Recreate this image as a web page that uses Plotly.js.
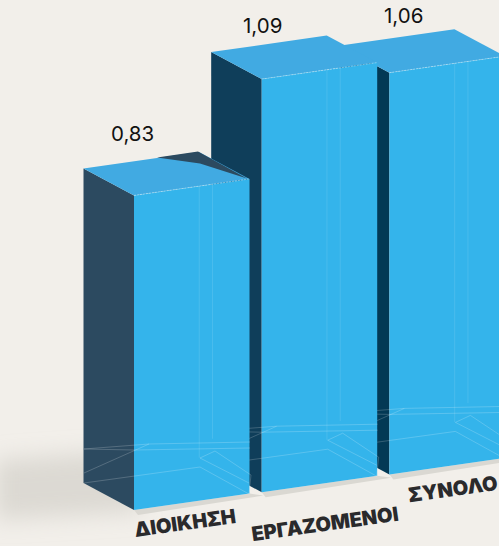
<!DOCTYPE html>
<html><head><meta charset="utf-8">
<script src="https://cdn.plot.ly/plotly-3.0.1.min.js"></script>
<style>html,body{margin:0;padding:0;background:#F2EFEA;overflow:hidden}#c{width:499px;height:546px}</style>
</head><body><div id="c"></div>
<script>
const categories = ["ΔΙΟΙΚΗΣΗ", "ΕΡΓΑΖΟΜΕΝΟΙ", "ΣΥΝΟΛΟ"];
const values = [0.83, 1.09, 1.06];
const valueLabels = ["0,83", "1,09", "1,06"];
const sideColors = ["#2C4A60", "#0F3E5A", "#033955"];
const labelOffsets = [[-2, -62], [1, -54], [14, -57]];
const categoryOffsets = [[51, 13], [63, 32], [64, 15]];
const guideStops = [[-43, -60], [-43, -60], [-43, -60]];

// projection of the pseudo-3D bars into pixel-like axis units
const UNIT = 379, BASE = [134, 510], STEP = [127.7, -17.8], W = [115.5, -16.5], D = [-50.5, -27];
const add = (p, ...q) => q.reduce((a, b) => [a[0] + b[0], a[1] + b[1]], p);
const poly = (pts, color, opacity) => ({
  type: "scatter", mode: "lines", x: [...pts.map(p => p[0]), pts[0][0]], y: [...pts.map(p => p[1]), pts[0][1]],
  fill: "toself", fillcolor: color, line: {width: 0, color: color}, opacity: opacity === undefined ? 1 : opacity,
  hoverinfo: "skip", showlegend: false
});
const seg = (pts, color, width, dash) => ({
  type: "scatter", mode: "lines", x: pts.map(p => p[0]), y: pts.map(p => p[1]),
  line: {width: width, color: color, dash: dash || "solid"}, hoverinfo: "skip", showlegend: false
});

const traces = [];
const fbl = values.map((v, i) => add(BASE, [STEP[0] * i, STEP[1] * i]));
// ground strip under the front faces
for (let i = 2; i >= 0; i--) {
  const a = fbl[i], b = add(a, W);
  traces.push(poly([add(a, [0, 0]), b, add(b, [14, 2]), add(a, [4, 5])], "#DAD8D2"));
}

// bars are painted from the back to the front
for (let i = 2; i >= 0; i--) {
  const h = values[i] * UNIT, a = fbl[i], up = [0, -h];
  const b = add(a, W), ftl = add(a, up), ftr = add(b, up);
  const btl = add(ftl, D), btr = add(ftr, D), bbl = add(a, D);
  traces.push(poly([bbl, a, ftl, btl], sideColors[i]));
  traces.push(poly([btl, ftl, ftr, btr], "#41AAE2"));
  traces.push(poly([a, b, ftr, ftl], "#34B4EB"));
  // front-top dashed highlight
  traces.push(seg([ftl, ftr], "rgba(255,255,255,0.55)", 0.7, "2px,1px"));
  // vertical guides on the front face
  [0.565, 0.68].forEach((f, k) => {
    const p = add(a, [W[0] * f, W[1] * f]);
    traces.push(seg([add(p, [0, -h]), add(p, [0, guideStops[i][k]])], "rgba(255,255,255,0.16)", 0.7));
  });
  // faint wireframe of the base
  const wf = "rgba(255,255,255,0.28)";
  traces.push(seg([add(a, [-50, -61]), add(a, [15, -66]), add(a, [116, -68])], wf, 0.7));
  traces.push(seg([add(a, [-50, -37]), add(a, [15, -66])], wf, 0.7));
  traces.push(seg([add(a, [-50, -27]), add(a, [66, -43]), add(a, [115, -16])], wf, 0.7));
  traces.push(seg([add(a, [66, -52]), add(a, [81, -59]), add(a, [117, -35]), add(a, [115, -16])], wf, 0.7));
  traces.push(seg([add(a, [66, -52]), add(a, [115, -27])], wf, 0.7));
  traces.push(seg([add(a, [-50, -61]), add(a, [0, -60]), add(a, [116, -62])], wf, 0.7));
}
// dark wedge behind the first bar's top
const t = add(fbl[0], [0, -values[0] * UNIT]);
traces.push(poly([add(t, [23, -38]), add(t, [64, -44]), add(t, [113, -17]), add(t, [66, -32])], "#2C4A60"));

const annotations = [];
values.forEach((v, i) => {
  const top = add(fbl[i], [0, -v * UNIT]);
  annotations.push({x: top[0] + labelOffsets[i][0], y: top[1] + labelOffsets[i][1], text: valueLabels[i], showarrow: false, xref: "x", yref: "y",
    font: {family: "Inter, Lato, sans-serif", size: 20.5, color: "#111111"}});
  const c = add(fbl[i], categoryOffsets[i]);
  annotations.push({x: c[0], y: c[1], text: categories[i], showarrow: false, textangle: -8, xref: "x", yref: "y",
    font: {family: "Inter, 'Open Sans', sans-serif", size: 20, weight: 900, color: "#2A2A2C"}});
});

// soft ground shadow as a blurred backdrop image
const shadow = "<svg xmlns='http://www.w3.org/2000/svg' width='499' height='546'>" +
  "<filter id='b' x='-50%' y='-50%' width='200%' height='200%'><feGaussianBlur stdDeviation='11'/></filter>" +
  "<polygon points='-5,460 140,450 140,512 -5,520' fill='#C6C3BB' fill-opacity='0.5' filter='url(#b)'/></svg>";

Plotly.newPlot("c", traces, {
  width: 499, height: 546, margin: {l: 0, r: 0, t: 0, b: 0},
  paper_bgcolor: "#F2EFEA", plot_bgcolor: "#F2EFEA", showlegend: false, hovermode: false,
  xaxis: {range: [0, 499], visible: false, fixedrange: true},
  yaxis: {range: [546, 0], visible: false, fixedrange: true},
  annotations: annotations,
  images: [{source: "data:image/svg+xml," + encodeURIComponent(shadow), xref: "x", yref: "y", x: 0, y: 0, sizex: 499, sizey: 546,
    sizing: "stretch", xanchor: "left", yanchor: "top", layer: "below"}]
}, {displayModeBar: false, staticPlot: true});
</script></body></html>
